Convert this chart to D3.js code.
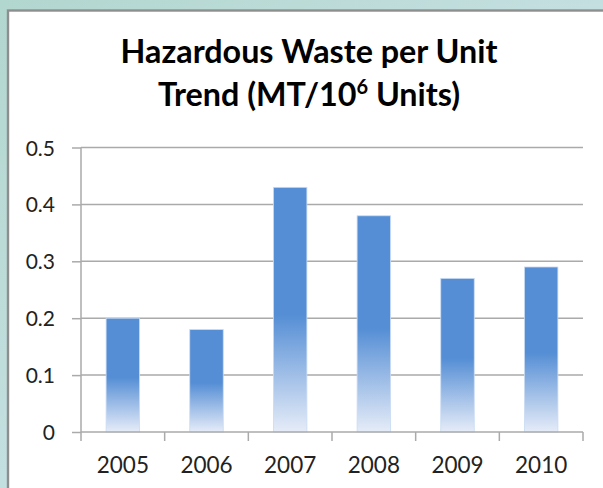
<!DOCTYPE html>
<html><head><meta charset="utf-8">
<script src="https://cdn.jsdelivr.net/npm/d3@7"></script>
<style>html,body{margin:0;padding:0;overflow:hidden;background:#fff}</style>
</head><body>
<svg id="chart" width="603" height="488"></svg>
<script>
const categories = ["2005","2006","2007","2008","2009","2010"];
const values = [0.20, 0.18, 0.43, 0.38, 0.27, 0.29];
const yTicks = [0, 0.1, 0.2, 0.3, 0.4, 0.5];
const yTickLabels = ["0","0.1","0.2","0.3","0.4","0.5"];
const titleLines = ["Hazardous Waste per Unit", "Trend (MT/10", "6", " Units)"];

const svg = d3.select("#chart");
const W = 603, H = 488;
const defs = svg.append("defs");

const bg = defs.append("linearGradient").attr("id","bg").attr("x1","0").attr("y1","0").attr("x2","1").attr("y2","1");
bg.append("stop").attr("offset","0").attr("stop-color","#b2d7cf");
bg.append("stop").attr("offset","0.5").attr("stop-color","#c4dfe0");
bg.append("stop").attr("offset","1").attr("stop-color","#d6e6ee");
svg.append("rect").attr("width",W).attr("height",H).attr("fill","url(#bg)");

svg.append("rect").attr("x",8).attr("y",10.5).attr("width",W+20).attr("height",H+20)
  .attr("fill","#fff").attr("stroke","#8e8e8e").attr("stroke-width",2.4);

const barGrad = defs.append("linearGradient").attr("id","barg").attr("x1","0").attr("y1","0").attr("x2","0").attr("y2","1");
barGrad.append("stop").attr("offset","0").attr("stop-color","#558ed5");
barGrad.append("stop").attr("offset","0.52").attr("stop-color","#558ed5");
barGrad.append("stop").attr("offset","1").attr("stop-color","#e6ecf8");

const x = d3.scaleBand().domain(categories).range([81, 583]).paddingInner(0.6).paddingOuter(0.3);
const y = d3.scaleLinear().domain([0, 0.5]).range([432, 147.5]);

const gridColor = "#aaaaaa";
// gridlines
svg.append("g").selectAll("line").data(yTicks.filter(d => d > 0)).join("line")
  .attr("x1", 81).attr("x2", 583).attr("y1", d => y(d)).attr("y2", d => y(d))
  .attr("stroke", gridColor).attr("stroke-width", 1.5);

// bars
svg.append("g").selectAll("rect").data(values).join("rect")
  .attr("x", (d,i) => x(categories[i]))
  .attr("width", x.bandwidth())
  .attr("y", d => y(d))
  .attr("height", d => y(0) - y(d))
  .attr("fill", "url(#barg)")
  .attr("stroke", "#c9dbf3").attr("stroke-width", 0.8);

// y axis
const yAxis = d3.axisLeft(y).tickValues(yTicks).tickSize(9).tickPadding(17)
  .tickFormat((d,i) => yTickLabels[i]);
const gy = svg.append("g").attr("transform","translate(81,0)").call(yAxis);
gy.select(".domain").attr("stroke", gridColor).attr("stroke-width",1.5).attr("d","M0,147.5V432");
gy.selectAll(".tick line").attr("stroke", gridColor).attr("stroke-width",1.5);
gy.selectAll(".tick text").attr("font-family","Lato, 'Open Sans', sans-serif").attr("font-size",21)
  .attr("fill","#222").attr("dy","0.36em");

// x axis
const xAxis = d3.axisBottom(x).tickSize(0).tickPadding(25);
const gx = svg.append("g").attr("transform","translate(0,432)").call(xAxis);
gx.select(".domain").attr("stroke", gridColor).attr("stroke-width",1.5).attr("d","M81,0H583");
gx.selectAll(".tick text").attr("font-family","Lato, 'Open Sans', sans-serif").attr("font-size",22.5)
  .attr("fill","#222").attr("dy","0.71em");
// boundary tick marks
const bounds = d3.range(categories.length + 1).map(i => x.range()[0] + i * x.step());
gx.append("g").selectAll("line").data(bounds).join("line")
  .attr("x1", d => d).attr("x2", d => d).attr("y1", 0).attr("y2", 9)
  .attr("stroke", gridColor).attr("stroke-width", 1.5);

// title
const tf = "Lato, 'Open Sans', sans-serif";
const t1 = svg.append("text").attr("x", 309).attr("y", 63).attr("text-anchor","middle")
  .attr("font-family", tf).attr("font-weight","bold").attr("font-size",30).attr("fill","#000")
  .text(titleLines[0]);
const w1 = t1.node().getComputedTextLength();
const fs = 30 * 377 / w1;
t1.attr("font-size", fs);
const t2 = svg.append("text").attr("x", 309).attr("y", 106).attr("text-anchor","middle")
  .attr("font-family", tf).attr("font-weight","bold").attr("font-size",fs).attr("fill","#000");
t2.append("tspan").text(titleLines[1]);
t2.append("tspan").attr("font-size", fs*0.62).attr("dy", -fs*0.36).text(titleLines[2]);
t2.append("tspan").attr("dy", fs*0.36).text(titleLines[3]);
</script>
</body></html>
